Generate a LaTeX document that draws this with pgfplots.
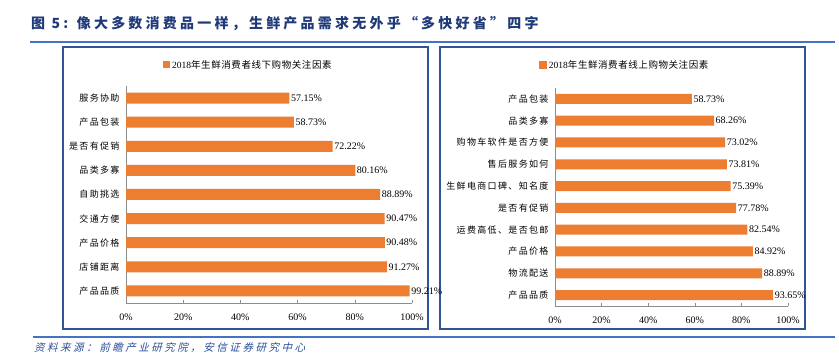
\documentclass[border=0pt]{standalone}
\usepackage{pgfplots}
\pgfplotsset{compat=1.18}
\usepackage{fontspec}
\setmainfont{Liberation Serif}
\newfontfamily\cjk[LetterSpace=15]{Noto Sans CJK SC}
\newfontfamily\cjkleg[LetterSpace=6]{Noto Sans CJK SC}
\newfontfamily\cjktitle[LetterSpace=23]{Noto Sans CJK SC}
\newfontfamily\cjkfoot[LetterSpace=24,FakeSlant=0.25]{Noto Sans CJK SC}
\definecolor{barorange}{HTML}{ED7D31}
\definecolor{boxblue}{HTML}{2F5597}
\definecolor{lineblue}{HTML}{4472C4}
\definecolor{titleblue}{HTML}{1F3A78}
\definecolor{footblue}{HTML}{2A4F9A}
\definecolor{axgray}{HTML}{8C8C8C}
\pgfplotsset{
  mybar/.style={
    xbar, scale only axis, clip=false,
    xmin=0, xmax=100,
    axis x line*=bottom, axis y line*=left,
    axis line style={axgray, line width=0.6pt},
    xtick={0,20,40,60,80,100},
    xticklabels={0\%,20\%,40\%,60\%,80\%,100\%},
    x tick label style={font=\fontsize{10}{12}\selectfont, yshift=-7pt},
    tick align=inside, major tick length=3pt,
    tick style={axgray, line width=0.6pt},
    ytick style={draw=none},
    minor y tick style={axgray, line width=0.6pt, xshift=-3pt},
    minor tick length=3pt,
    y dir=reverse,
    y tick label style={font=\cjk\fontsize{9}{11}\selectfont, xshift=-3pt},
    nodes near coords={\pgfmathprintnumber[fixed,precision=2,fixed zerofill]{\pgfplotspointmeta}\%},
    point meta=x,
    nodes near coords style={font=\fontsize{10}{12}\selectfont, black, inner sep=1.5pt},
    /pgf/number format/assume math mode=true,
    legend style={draw=none, fill=none, font=\fontsize{9.5}{11}\selectfont, inner sep=0pt},
    legend image code/.code={\fill[barorange] (0pt,-3.5pt) rectangle (7.5pt,4pt);},
  }
}
\begin{document}
\begin{tikzpicture}
\useasboundingbox (0pt,0pt) rectangle (839pt,363pt);
% title
\node[anchor=west, inner sep=0pt, text=titleblue, font=\cjktitle\bfseries\fontsize{14}{16}\selectfont] at (31pt,339pt) {图 5: 像大多数消费品一样，生鲜产品需求无外乎“多快好省”四字};
\draw[lineblue, line width=2pt] (30pt,321pt) -- (835pt,321pt);
% boxes
\draw[boxblue, line width=1.5pt] (63pt,34pt) rectangle (428pt,316pt);
\draw[boxblue, line width=1.5pt] (440pt,34pt) rectangle (805pt,316pt);
% bottom line and footer
\draw[lineblue, line width=1.6pt] (33pt,26pt) -- (835pt,26pt);
\node[anchor=west, inner sep=0pt, text=footblue, font=\cjkfoot\fontsize{10.5}{12}\selectfont] at (34pt,15pt) {资料来源：前瞻产业研究院，安信证券研究中心};

% left chart
\begin{axis}[mybar,
  at={(126pt,277pt)}, anchor=north west, width=286pt, height=217pt,
  ymin=0.5, ymax=9.5,
  ytick={1,...,9},
  minor ytick={0.5,1.5,...,9.5},
  yticklabels={服务协助,产品包装,是否有促销,品类多寡,自助挑选,交通方便,产品价格,店铺距离,产品品质},
  bar width=11pt,
  legend style={at={(0.427,1.097)}, anchor=center},
]
\addplot[fill=barorange, draw=none] coordinates {
(57.15,1) (58.73,2) (72.22,3) (80.16,4) (88.89,5) (90.47,6) (90.48,7) (91.27,8) (99.21,9)};
\addlegendentry{2018{\cjkleg 年生鲜消费者线下购物关注因素}}
\end{axis}

% right chart
\begin{axis}[mybar,
  at={(555pt,275pt)}, anchor=north west, width=233pt, height=218pt,
  ymin=0.5, ymax=10.5,
  ytick={1,...,10},
  minor ytick={0.5,1.5,...,10.5},
  yticklabels={产品包装,品类多寡,购物车软件是否方便,售后服务如何,生鲜电商口碑、知名度,是否有促销,运费高低、是否包邮,产品价格,物流配送,产品品质},
  bar width=10pt,
  legend style={at={(0.30,1.105)}, anchor=center},
]
\addplot[fill=barorange, draw=none] coordinates {
(58.73,1) (68.26,2) (73.02,3) (73.81,4) (75.39,5) (77.78,6) (82.54,7) (84.92,8) (88.89,9) (93.65,10)};
\addlegendentry{2018{\cjkleg 年生鲜消费者线上购物关注因素}}
\end{axis}
\end{tikzpicture}
\end{document}
